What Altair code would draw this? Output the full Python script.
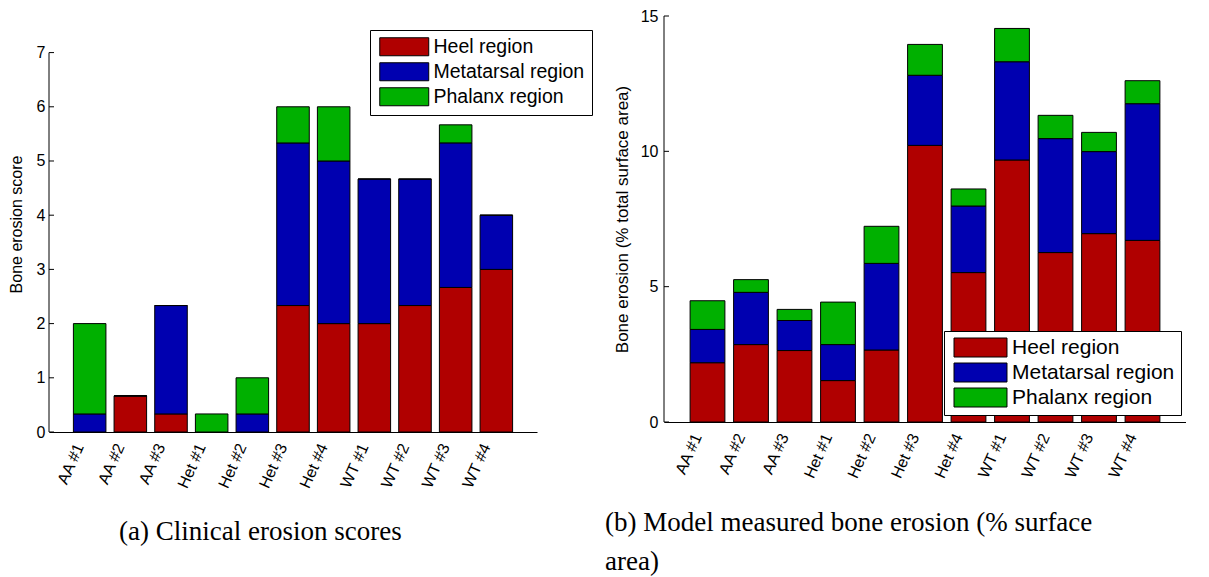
import altair as alt
import pandas as pd

samples = ["AA #1", "AA #2", "AA #3", "Het #1", "Het #2", "Het #3", "Het #4",
           "WT #1", "WT #2", "WT #3", "WT #4"]
regions = ["Heel region", "Metatarsal region", "Phalanx region"]
colors = ["#B00000", "#0000B0", "#00B000"]

# (a) clinical erosion scores
clin_heel = [0, 0.667, 0.333, 0, 0, 2.333, 2.0, 2.0, 2.333, 2.667, 3.0]
clin_meta = [0.333, 0, 2.0, 0, 0.333, 3.0, 3.0, 2.667, 2.333, 2.667, 1.0]
clin_phal = [1.667, 0, 0, 0.333, 0.667, 0.667, 1.0, 0, 0, 0.333, 0]

# (b) model measured bone erosion (% surface area)
model_heel = [2.19, 2.86, 2.64, 1.53, 2.66, 10.22, 5.52, 9.68, 6.26, 6.96, 6.71]
model_meta = [1.23, 1.93, 1.11, 1.33, 3.20, 2.59, 2.46, 3.63, 4.21, 3.03, 5.05]
model_phal = [1.06, 0.47, 0.41, 1.57, 1.37, 1.14, 0.63, 1.23, 0.86, 0.71, 0.85]

ticks_a = [0, 1, 2, 3, 4, 5, 6, 7]
ticks_b = [0, 5, 10, 15]

caption_a = "(a) Clinical erosion scores"
caption_b = ["(b) Model measured bone erosion (% surface", "area)"]

SANS = "Liberation Sans"
SERIF = "Liberation Serif"


def long_table(heel, meta, phal):
    rows = []
    for i, s in enumerate(samples):
        for k, vals in enumerate([heel, meta, phal]):
            rows.append({"sample": s, "region": regions[k], "ord": k, "value": vals[i]})
    return pd.DataFrame(rows)


def panel(df, ticks, ymax, axis_top, width, height, ytitle, ytitle_fs, ytitle_pad,
          ylab_pad, legx, legy, leg_pad, leg_fs, sym_w, sym_h, row_pad, caption,
          cap_dx, cap_offset):
    half_w = sym_w / sym_h
    sym_path = f"M-{half_w:.3f},-1H{half_w:.3f}V1H-{half_w:.3f}Z"
    sym_offset = 9 - leg_pad + sym_w / 2 - sym_h / 2
    lab_offset = sym_w + 8 - sym_h - sym_offset - 1 - (leg_pad - 6)
    lab_offset = sym_w + (9 - leg_pad) + 5 - sym_h - sym_offset - 1
    yscale = alt.Scale(domain=[0, ymax], nice=False, zero=True)
    yaxis = alt.Axis(values=ticks, format="d", domain=False, ticks=False, grid=False,
                     labelFont=SANS, labelFontSize=16, labelColor="black",
                     labelPadding=ylab_pad, titleFont=SANS, titleFontSize=ytitle_fs,
                     titleFontWeight="normal", titleColor="black",
                     titlePadding=ytitle_pad)
    xaxis = alt.Axis(labelAngle=294, labelAlign="right", labelBaseline="middle",
                     labelPadding=12, labelOffset=-10, labelFont=SANS,
                     labelFontSize=16, labelColor="black", ticks=False,
                     domainColor="black", domainWidth=1, labelOverlap=False,
                     grid=False)
    bars = alt.Chart(df).mark_bar(stroke="black", strokeWidth=1, opacity=1).encode(
        x=alt.X("sample:N", sort=samples, title=None, axis=xaxis,
                scale=alt.Scale(paddingInner=0.2, paddingOuter=0.6)),
        y=alt.Y("value:Q", stack="zero", scale=yscale, title=ytitle, axis=yaxis),
        color=alt.Color("region:N", scale=alt.Scale(domain=regions, range=colors),
                        legend=alt.Legend(
                            title=None, orient="none", legendX=legx, legendY=legy,
                            direction="vertical", fillColor="white",
                            strokeColor="black", padding=leg_pad,
                            symbolOffset=sym_offset, symbolType=sym_path,
                            symbolSize=sym_h * sym_h, symbolStrokeColor="black",
                            symbolStrokeWidth=1, symbolOpacity=1,
                            labelFont=SANS, labelFontSize=leg_fs, labelColor="black",
                            labelOffset=lab_offset, rowPadding=row_pad,
                            labelLimit=0)),
        order=alt.Order("ord:Q", sort="ascending"),
    )
    line_df = pd.DataFrame({"lo": [0], "hi": [axis_top]})
    axis_line = alt.Chart(line_df).mark_rule(color="black", strokeWidth=1).encode(
        x=alt.value(0),
        y=alt.Y("lo:Q", scale=yscale, title=ytitle),
        y2="hi:Q",
    )
    tick_df = pd.DataFrame({"t": ticks})
    tick_marks = alt.Chart(tick_df).mark_rule(color="black", strokeWidth=1).encode(
        x=alt.value(0), x2=alt.value(5),
        y=alt.Y("t:Q", scale=yscale, title=ytitle),
    )
    return alt.layer(bars, axis_line, tick_marks).properties(
        width=width, height=height,
        title=alt.TitleParams(text=caption, orient="bottom", anchor="start",
                              frame="group", dx=cap_dx, offset=cap_offset,
                              font=SERIF, fontSize=27, fontWeight="normal",
                              color="black", lineHeight=39),
    )


left = panel(long_table(clin_heel, clin_meta, clin_phal), ticks_a, 7.675, 7,
             488, 416, "Bone erosion score", 16, 12, 4, 321, 14, 7, 19.5, 49, 18, 2,
             caption_a, 70, 29)
right = panel(long_table(model_heel, model_meta, model_phal), ticks_b, 15, 15,
              522, 406, "Bone erosion (% total surface area)", 17, 9, 6, 280, 315,
              6, 21, 53, 19, 2, caption_b, -59, 30)

chart = alt.hconcat(left, right, spacing=127, bounds="flush").resolve_scale(
    x="independent", y="independent", color="independent"
).properties(
    padding={"left": 0, "top": 0, "right": 0, "bottom": 0},
    background="white",
).configure_view(strokeWidth=0, stroke="transparent")

chart.save("out.html", embed_options={"renderer": "svg", "actions": False})
